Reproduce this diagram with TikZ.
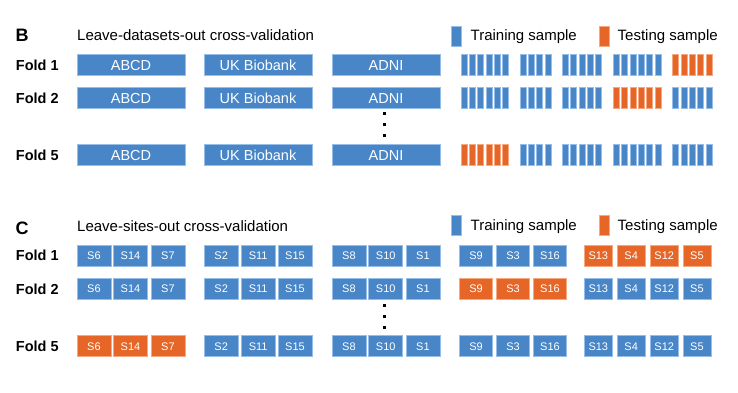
\documentclass[tikz,border=0pt]{standalone}
\usepackage{fontspec}
\setmainfont{Liberation Sans}
\definecolor{tblue}{RGB}{72,134,200}
\definecolor{tblueE}{RGB}{150,190,232}
\definecolor{torange}{RGB}{230,102,40}
\definecolor{torangeE}{RGB}{246,168,128}
\begin{document}
\begin{tikzpicture}[x=1pt,y=-1pt,
  blk/.style={rectangle, inner sep=0pt, minimum height=21pt, line width=0.7pt, text=white},
  big/.style={blk, minimum width=108pt, fill=tblue, draw=tblueE, font=\fontsize{14.5}{16}\selectfont, text height=10.4pt, text depth=0pt},
  sbox/.style={blk, font=\fontsize{11}{13}\selectfont, text height=7.9pt, text depth=0pt},
  bar/.style={blk, minimum width=6pt},
  legbox/.style={rectangle, inner sep=0pt, minimum width=10pt, minimum height=20pt, line width=0.7pt},
  fold/.style={font=\bfseries\fontsize{14.5}{16}\selectfont, anchor=base west, inner sep=0pt},
  ttl/.style={font=\fontsize{15}{17}\selectfont, anchor=base west, inner sep=0pt},
  pan/.style={font=\bfseries\fontsize{18}{20}\selectfont, anchor=base west, inner sep=0pt},
  dotb/.style={rectangle, fill=black, minimum size=3pt, inner sep=0pt}]
\fill[white] (0,0) rectangle (738,393);
\useasboundingbox (0,0) rectangle (738,393);

% ---------- Panel B ----------
\node[pan] (B) at (15.5,41.4) {B};
\node[ttl] (titleB) at (77,40.4) {Leave-datasets-out cross-validation};
\node[legbox, fill=tblue, draw=tblueE] (trB) at (456,36.5) {};
\node[ttl] (trBt) at (470.5,40.6) {Training sample};
\node[legbox, fill=torange, draw=torangeE] (teB) at (604,36.5) {};
\node[ttl] (teBt) at (617.5,40.6) {Testing sample};

\foreach \r/\y/\t in {1/65/5, 2/98/4, 5/155/1}{
  \node[fold] (bf\r) at (15.7,\y+5.2) {Fold \r};
  \node[big] (abcd\r) at (131,\y) {ABCD};
  \node[big] (ukb\r) at (258,\y) {UK Biobank};
  \node[big] (adni\r) at (386,\y) {ADNI};
  \foreach \g/\s/\n in {1/461/6, 2/520/4, 3/562.3/5, 4/613.3/6, 5/672.7/5}{
    \ifnum\g=\t \def\fc{torange}\def\ec{torangeE}\else\def\fc{tblue}\def\ec{tblueE}\fi
    \foreach \k in {1,...,\n}{
      \node[bar, fill=\fc, draw=\ec] (bar\r-\g-\k) at (\s+3+8.33*\k-8.33,\y) {};
    }
  }
}
\node[dotb] (dB1) at (384.3,114) {};
\node[dotb] (dB2) at (384.3,124.8) {};
\node[dotb] (dB3) at (384.3,135.7) {};

% ---------- Panel C ----------
\node[pan] (C) at (15.5,234.2) {C};
\node[ttl] (titleC) at (77,231.4) {Leave-sites-out cross-validation};
\node[legbox, fill=tblue, draw=tblueE] (trC) at (456,225.5) {};
\node[ttl] (trCt) at (470.5,230.3) {Training sample};
\node[legbox, fill=torange, draw=torangeE] (teC) at (604,225.5) {};
\node[ttl] (teCt) at (617.5,230.3) {Testing sample};

\foreach \r/\y/\t in {1/255.5/5, 2/288.8/4, 5/346.2/1}{
  \node[fold] (cf\r) at (15.7,\y+5.2) {Fold \r};
  \foreach \g/\x/\w/\lab [count=\i] in {1/93.9/34/S6, 1/130.5/34/S14, 1/167.9/34/S7,
      2/221.2/34/S2, 2/258.2/34/S11, 2/295/34/S15,
      3/348.9/34/S8, 3/385.7/34/S10, 3/422.9/34/S1,
      4/476/33.4/S9, 4/513/33.4/S3, 4/550/33.4/S16,
      5/598.3/28/S13, 5/631.2/28/S4, 5/664.2/28/S12, 5/696.9/28/S5}{
    \ifnum\g=\t \def\fc{torange}\def\ec{torangeE}\else\def\fc{tblue}\def\ec{tblueE}\fi
    \node[sbox, minimum width=\w pt, fill=\fc, draw=\ec] (s\r-\i) at (\x,\y) {\lab};
  }
}
\node[dotb] (dC1) at (384.3,305) {};
\node[dotb] (dC2) at (384.3,316.5) {};
\node[dotb] (dC3) at (384.3,327.7) {};
\end{tikzpicture}
\end{document}
